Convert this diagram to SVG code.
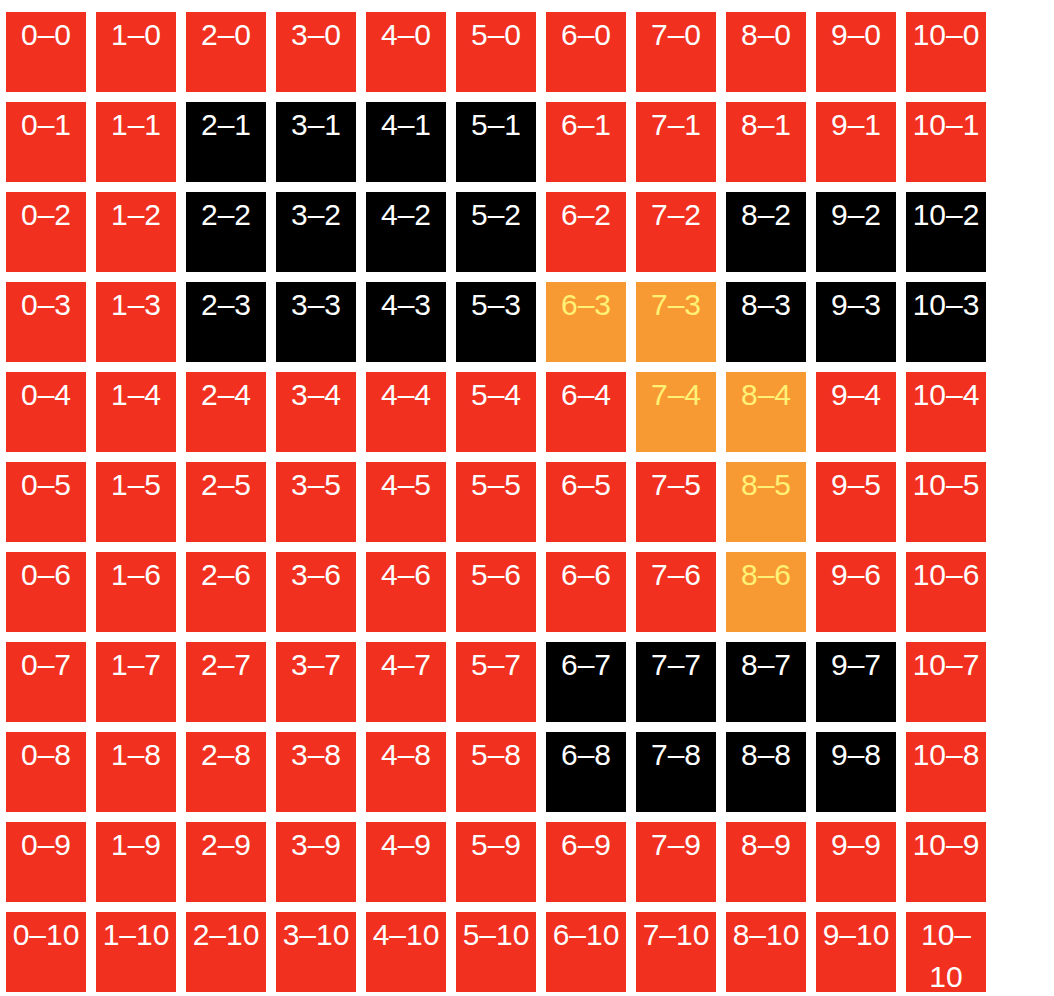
<svg xmlns="http://www.w3.org/2000/svg" width="1054" height="996" viewBox="0 0 1054 996">
<style>
rect{width:80px;height:80px}
.r{fill:#f1301f}.b{fill:#000}.o{fill:#f89a34}
text{font-family:"Liberation Sans",Arial,sans-serif;font-size:30px;fill:#fff;text-anchor:middle}
text.y{fill:#fff176}
</style>
<rect width="1054" height="996" fill="#fff" style="width:1054px;height:996px"/>
<g id="row0">
<g id="c0-0"><rect x="6" y="12" class="r"/><text x="46" y="45">0–0</text></g>
<g id="c1-0"><rect x="96" y="12" class="r"/><text x="136" y="45">1–0</text></g>
<g id="c2-0"><rect x="186" y="12" class="r"/><text x="226" y="45">2–0</text></g>
<g id="c3-0"><rect x="276" y="12" class="r"/><text x="316" y="45">3–0</text></g>
<g id="c4-0"><rect x="366" y="12" class="r"/><text x="406" y="45">4–0</text></g>
<g id="c5-0"><rect x="456" y="12" class="r"/><text x="496" y="45">5–0</text></g>
<g id="c6-0"><rect x="546" y="12" class="r"/><text x="586" y="45">6–0</text></g>
<g id="c7-0"><rect x="636" y="12" class="r"/><text x="676" y="45">7–0</text></g>
<g id="c8-0"><rect x="726" y="12" class="r"/><text x="766" y="45">8–0</text></g>
<g id="c9-0"><rect x="816" y="12" class="r"/><text x="856" y="45">9–0</text></g>
<g id="c10-0"><rect x="906" y="12" class="r"/><text x="946" y="45">10–0</text></g>
</g>
<g id="row1">
<g id="c0-1"><rect x="6" y="102" class="r"/><text x="46" y="135">0–1</text></g>
<g id="c1-1"><rect x="96" y="102" class="r"/><text x="136" y="135">1–1</text></g>
<g id="c2-1"><rect x="186" y="102" class="b"/><text x="226" y="135">2–1</text></g>
<g id="c3-1"><rect x="276" y="102" class="b"/><text x="316" y="135">3–1</text></g>
<g id="c4-1"><rect x="366" y="102" class="b"/><text x="406" y="135">4–1</text></g>
<g id="c5-1"><rect x="456" y="102" class="b"/><text x="496" y="135">5–1</text></g>
<g id="c6-1"><rect x="546" y="102" class="r"/><text x="586" y="135">6–1</text></g>
<g id="c7-1"><rect x="636" y="102" class="r"/><text x="676" y="135">7–1</text></g>
<g id="c8-1"><rect x="726" y="102" class="r"/><text x="766" y="135">8–1</text></g>
<g id="c9-1"><rect x="816" y="102" class="r"/><text x="856" y="135">9–1</text></g>
<g id="c10-1"><rect x="906" y="102" class="r"/><text x="946" y="135">10–1</text></g>
</g>
<g id="row2">
<g id="c0-2"><rect x="6" y="192" class="r"/><text x="46" y="225">0–2</text></g>
<g id="c1-2"><rect x="96" y="192" class="r"/><text x="136" y="225">1–2</text></g>
<g id="c2-2"><rect x="186" y="192" class="b"/><text x="226" y="225">2–2</text></g>
<g id="c3-2"><rect x="276" y="192" class="b"/><text x="316" y="225">3–2</text></g>
<g id="c4-2"><rect x="366" y="192" class="b"/><text x="406" y="225">4–2</text></g>
<g id="c5-2"><rect x="456" y="192" class="b"/><text x="496" y="225">5–2</text></g>
<g id="c6-2"><rect x="546" y="192" class="r"/><text x="586" y="225">6–2</text></g>
<g id="c7-2"><rect x="636" y="192" class="r"/><text x="676" y="225">7–2</text></g>
<g id="c8-2"><rect x="726" y="192" class="b"/><text x="766" y="225">8–2</text></g>
<g id="c9-2"><rect x="816" y="192" class="b"/><text x="856" y="225">9–2</text></g>
<g id="c10-2"><rect x="906" y="192" class="b"/><text x="946" y="225">10–2</text></g>
</g>
<g id="row3">
<g id="c0-3"><rect x="6" y="282" class="r"/><text x="46" y="315">0–3</text></g>
<g id="c1-3"><rect x="96" y="282" class="r"/><text x="136" y="315">1–3</text></g>
<g id="c2-3"><rect x="186" y="282" class="b"/><text x="226" y="315">2–3</text></g>
<g id="c3-3"><rect x="276" y="282" class="b"/><text x="316" y="315">3–3</text></g>
<g id="c4-3"><rect x="366" y="282" class="b"/><text x="406" y="315">4–3</text></g>
<g id="c5-3"><rect x="456" y="282" class="b"/><text x="496" y="315">5–3</text></g>
<g id="c6-3"><rect x="546" y="282" class="o"/><text x="586" y="315" class="y">6–3</text></g>
<g id="c7-3"><rect x="636" y="282" class="o"/><text x="676" y="315" class="y">7–3</text></g>
<g id="c8-3"><rect x="726" y="282" class="b"/><text x="766" y="315">8–3</text></g>
<g id="c9-3"><rect x="816" y="282" class="b"/><text x="856" y="315">9–3</text></g>
<g id="c10-3"><rect x="906" y="282" class="b"/><text x="946" y="315">10–3</text></g>
</g>
<g id="row4">
<g id="c0-4"><rect x="6" y="372" class="r"/><text x="46" y="405">0–4</text></g>
<g id="c1-4"><rect x="96" y="372" class="r"/><text x="136" y="405">1–4</text></g>
<g id="c2-4"><rect x="186" y="372" class="r"/><text x="226" y="405">2–4</text></g>
<g id="c3-4"><rect x="276" y="372" class="r"/><text x="316" y="405">3–4</text></g>
<g id="c4-4"><rect x="366" y="372" class="r"/><text x="406" y="405">4–4</text></g>
<g id="c5-4"><rect x="456" y="372" class="r"/><text x="496" y="405">5–4</text></g>
<g id="c6-4"><rect x="546" y="372" class="r"/><text x="586" y="405">6–4</text></g>
<g id="c7-4"><rect x="636" y="372" class="o"/><text x="676" y="405" class="y">7–4</text></g>
<g id="c8-4"><rect x="726" y="372" class="o"/><text x="766" y="405" class="y">8–4</text></g>
<g id="c9-4"><rect x="816" y="372" class="r"/><text x="856" y="405">9–4</text></g>
<g id="c10-4"><rect x="906" y="372" class="r"/><text x="946" y="405">10–4</text></g>
</g>
<g id="row5">
<g id="c0-5"><rect x="6" y="462" class="r"/><text x="46" y="495">0–5</text></g>
<g id="c1-5"><rect x="96" y="462" class="r"/><text x="136" y="495">1–5</text></g>
<g id="c2-5"><rect x="186" y="462" class="r"/><text x="226" y="495">2–5</text></g>
<g id="c3-5"><rect x="276" y="462" class="r"/><text x="316" y="495">3–5</text></g>
<g id="c4-5"><rect x="366" y="462" class="r"/><text x="406" y="495">4–5</text></g>
<g id="c5-5"><rect x="456" y="462" class="r"/><text x="496" y="495">5–5</text></g>
<g id="c6-5"><rect x="546" y="462" class="r"/><text x="586" y="495">6–5</text></g>
<g id="c7-5"><rect x="636" y="462" class="r"/><text x="676" y="495">7–5</text></g>
<g id="c8-5"><rect x="726" y="462" class="o"/><text x="766" y="495" class="y">8–5</text></g>
<g id="c9-5"><rect x="816" y="462" class="r"/><text x="856" y="495">9–5</text></g>
<g id="c10-5"><rect x="906" y="462" class="r"/><text x="946" y="495">10–5</text></g>
</g>
<g id="row6">
<g id="c0-6"><rect x="6" y="552" class="r"/><text x="46" y="585">0–6</text></g>
<g id="c1-6"><rect x="96" y="552" class="r"/><text x="136" y="585">1–6</text></g>
<g id="c2-6"><rect x="186" y="552" class="r"/><text x="226" y="585">2–6</text></g>
<g id="c3-6"><rect x="276" y="552" class="r"/><text x="316" y="585">3–6</text></g>
<g id="c4-6"><rect x="366" y="552" class="r"/><text x="406" y="585">4–6</text></g>
<g id="c5-6"><rect x="456" y="552" class="r"/><text x="496" y="585">5–6</text></g>
<g id="c6-6"><rect x="546" y="552" class="r"/><text x="586" y="585">6–6</text></g>
<g id="c7-6"><rect x="636" y="552" class="r"/><text x="676" y="585">7–6</text></g>
<g id="c8-6"><rect x="726" y="552" class="o"/><text x="766" y="585" class="y">8–6</text></g>
<g id="c9-6"><rect x="816" y="552" class="r"/><text x="856" y="585">9–6</text></g>
<g id="c10-6"><rect x="906" y="552" class="r"/><text x="946" y="585">10–6</text></g>
</g>
<g id="row7">
<g id="c0-7"><rect x="6" y="642" class="r"/><text x="46" y="675">0–7</text></g>
<g id="c1-7"><rect x="96" y="642" class="r"/><text x="136" y="675">1–7</text></g>
<g id="c2-7"><rect x="186" y="642" class="r"/><text x="226" y="675">2–7</text></g>
<g id="c3-7"><rect x="276" y="642" class="r"/><text x="316" y="675">3–7</text></g>
<g id="c4-7"><rect x="366" y="642" class="r"/><text x="406" y="675">4–7</text></g>
<g id="c5-7"><rect x="456" y="642" class="r"/><text x="496" y="675">5–7</text></g>
<g id="c6-7"><rect x="546" y="642" class="b"/><text x="586" y="675">6–7</text></g>
<g id="c7-7"><rect x="636" y="642" class="b"/><text x="676" y="675">7–7</text></g>
<g id="c8-7"><rect x="726" y="642" class="b"/><text x="766" y="675">8–7</text></g>
<g id="c9-7"><rect x="816" y="642" class="b"/><text x="856" y="675">9–7</text></g>
<g id="c10-7"><rect x="906" y="642" class="r"/><text x="946" y="675">10–7</text></g>
</g>
<g id="row8">
<g id="c0-8"><rect x="6" y="732" class="r"/><text x="46" y="765">0–8</text></g>
<g id="c1-8"><rect x="96" y="732" class="r"/><text x="136" y="765">1–8</text></g>
<g id="c2-8"><rect x="186" y="732" class="r"/><text x="226" y="765">2–8</text></g>
<g id="c3-8"><rect x="276" y="732" class="r"/><text x="316" y="765">3–8</text></g>
<g id="c4-8"><rect x="366" y="732" class="r"/><text x="406" y="765">4–8</text></g>
<g id="c5-8"><rect x="456" y="732" class="r"/><text x="496" y="765">5–8</text></g>
<g id="c6-8"><rect x="546" y="732" class="b"/><text x="586" y="765">6–8</text></g>
<g id="c7-8"><rect x="636" y="732" class="b"/><text x="676" y="765">7–8</text></g>
<g id="c8-8"><rect x="726" y="732" class="b"/><text x="766" y="765">8–8</text></g>
<g id="c9-8"><rect x="816" y="732" class="b"/><text x="856" y="765">9–8</text></g>
<g id="c10-8"><rect x="906" y="732" class="r"/><text x="946" y="765">10–8</text></g>
</g>
<g id="row9">
<g id="c0-9"><rect x="6" y="822" class="r"/><text x="46" y="855">0–9</text></g>
<g id="c1-9"><rect x="96" y="822" class="r"/><text x="136" y="855">1–9</text></g>
<g id="c2-9"><rect x="186" y="822" class="r"/><text x="226" y="855">2–9</text></g>
<g id="c3-9"><rect x="276" y="822" class="r"/><text x="316" y="855">3–9</text></g>
<g id="c4-9"><rect x="366" y="822" class="r"/><text x="406" y="855">4–9</text></g>
<g id="c5-9"><rect x="456" y="822" class="r"/><text x="496" y="855">5–9</text></g>
<g id="c6-9"><rect x="546" y="822" class="r"/><text x="586" y="855">6–9</text></g>
<g id="c7-9"><rect x="636" y="822" class="r"/><text x="676" y="855">7–9</text></g>
<g id="c8-9"><rect x="726" y="822" class="r"/><text x="766" y="855">8–9</text></g>
<g id="c9-9"><rect x="816" y="822" class="r"/><text x="856" y="855">9–9</text></g>
<g id="c10-9"><rect x="906" y="822" class="r"/><text x="946" y="855">10–9</text></g>
</g>
<g id="row10">
<g id="c0-10"><rect x="6" y="912" class="r"/><text x="46" y="945">0–10</text></g>
<g id="c1-10"><rect x="96" y="912" class="r"/><text x="136" y="945">1–10</text></g>
<g id="c2-10"><rect x="186" y="912" class="r"/><text x="226" y="945">2–10</text></g>
<g id="c3-10"><rect x="276" y="912" class="r"/><text x="316" y="945">3–10</text></g>
<g id="c4-10"><rect x="366" y="912" class="r"/><text x="406" y="945">4–10</text></g>
<g id="c5-10"><rect x="456" y="912" class="r"/><text x="496" y="945">5–10</text></g>
<g id="c6-10"><rect x="546" y="912" class="r"/><text x="586" y="945">6–10</text></g>
<g id="c7-10"><rect x="636" y="912" class="r"/><text x="676" y="945">7–10</text></g>
<g id="c8-10"><rect x="726" y="912" class="r"/><text x="766" y="945">8–10</text></g>
<g id="c9-10"><rect x="816" y="912" class="r"/><text x="856" y="945">9–10</text></g>
<g id="c10-10"><rect x="906" y="912" class="r"/><text x="946" y="945">10–</text><text x="946" y="987">10</text></g>
</g>
</svg>
